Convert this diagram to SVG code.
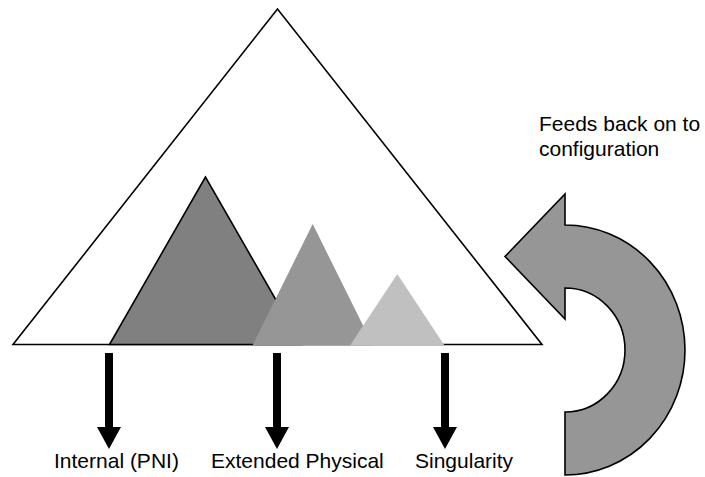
<svg xmlns="http://www.w3.org/2000/svg" width="705" height="477" viewBox="0 0 705 477">
<style>
  .lbl { font-family: "Liberation Sans", Arial, sans-serif; font-size: 21px; fill: #000; }
  .outline { stroke: #000; stroke-width: 1.6; stroke-linejoin: miter; }
</style>
<defs>
  <marker id="ah" viewBox="0 0 22 24" refX="0" refY="12" markerWidth="22" markerHeight="24" markerUnits="userSpaceOnUse" orient="auto">
    <path d="M0,0 L22,12 L0,24 Z" fill="#000"/>
  </marker>
</defs>
<rect width="705" height="477" fill="#fff"/>
<g id="outer-triangle">
  <polygon class="outline" points="277.5,9 13,344.5 542,344.5" fill="#fff"/>
</g>
<g id="internal-peak">
  <polygon class="outline" points="205.5,177 109.5,344.5 301.5,344.5" fill="#808080"/>
</g>
<g id="extended-peak">
  <polygon points="312.7,224 252.5,345.5 373,345.5" fill="#969696"/>
</g>
<g id="singularity-peak">
  <polygon points="397.3,274 350,345.5 444.5,345.5" fill="#c0c0c0"/>
</g>
<g id="feedback-arrow">
  <path class="outline" d="M565,194 L565,225 A120,125 0 0 1 565,475 L565,412 A60,62 0 0 0 565,288 L565,319 L505,256.5 Z" fill="#969696"/>
</g>
<g id="connectors" fill="none" stroke="#000" stroke-width="8">
  <line x1="109" y1="353" x2="109" y2="427" marker-end="url(#ah)"/>
  <line x1="277" y1="353" x2="277" y2="427" marker-end="url(#ah)"/>
  <line x1="445" y1="353" x2="445" y2="427" marker-end="url(#ah)"/>
</g>
<g id="labels">
  <text class="lbl" x="54" y="468">Internal (PNI)</text>
  <text class="lbl" x="211" y="468">Extended Physical</text>
  <text class="lbl" x="415" y="468">Singularity</text>
  <text class="lbl" x="539" y="131">Feeds back on to</text>
  <text class="lbl" x="539" y="156">configuration</text>
</g>
</svg>
